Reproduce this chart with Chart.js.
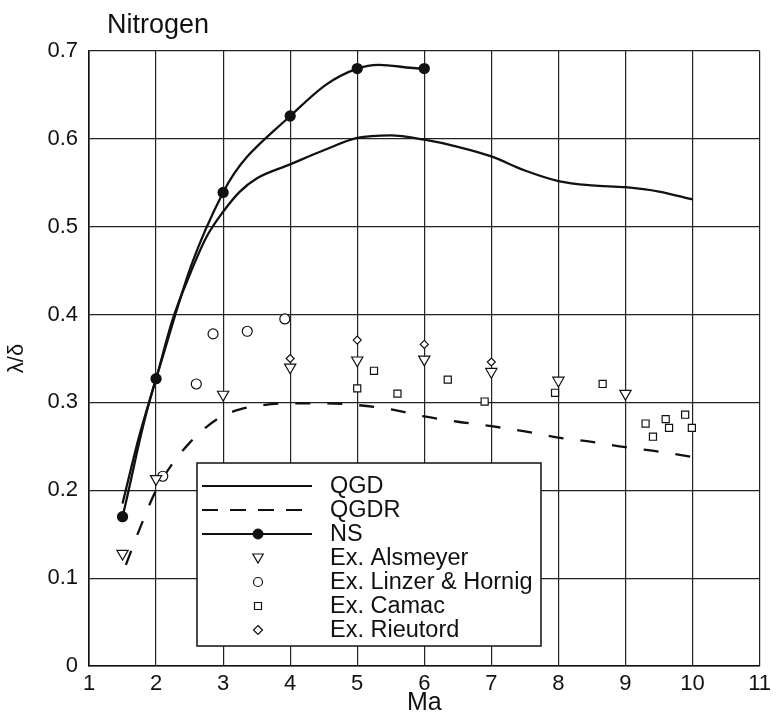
<!DOCTYPE html>
<html>
<head>
<meta charset="utf-8">
<title>Nitrogen</title>
<script src="https://cdn.jsdelivr.net/npm/chart.js@4.4.1/dist/chart.umd.min.js"></script>
<style>
  html, body { margin: 0; padding: 0; background: #fff; }
  #wrap { width: 776px; height: 716px; position: relative; }
</style>
</head>
<body>
<div id="wrap"><canvas id="c"></canvas></div>
<script>
/* λ/δ против числа Маха, азот */
const FONT = "'Liberation Sans', Arial, sans-serif";

const xTicks = [1, 2, 3, 4, 5, 6, 7, 8, 9, 10, 11];
const yTicks = [0, 0.1, 0.2, 0.3, 0.4, 0.5, 0.6, 0.7];

const qgdMa  = [1.5, 1.75, 2, 2.25, 2.5, 2.75, 3, 3.25, 3.5, 4, 4.5, 5, 5.5, 6, 6.5, 7, 7.5, 8, 8.5, 9, 9.5, 10];
const qgdVal = [0.185, 0.262, 0.327, 0.395, 0.445, 0.488, 0.517, 0.540, 0.555, 0.571, 0.587, 0.601, 0.604, 0.599, 0.591, 0.580, 0.564, 0.552, 0.547, 0.545, 0.540, 0.531];

const qgdrMa  = [1.55, 1.75, 2, 2.25, 2.5, 2.75, 3, 3.25, 3.5, 4, 4.5, 5, 5.5, 6, 6.5, 7, 7.5, 8, 8.5, 9, 9.5, 10];
const qgdrVal = [0.115, 0.155, 0.200, 0.231, 0.254, 0.272, 0.285, 0.292, 0.296, 0.299, 0.299, 0.297, 0.292, 0.284, 0.278, 0.273, 0.267, 0.260, 0.255, 0.249, 0.244, 0.238];

const nsMa  = [1.5, 2, 3, 4, 5, 6];
const nsVal = [0.170, 0.327, 0.539, 0.626, 0.680, 0.680];

const alsMa  = [1.5, 2, 3, 4, 5, 6, 7, 8, 9];
const alsVal = [0.128, 0.213, 0.309, 0.340, 0.348, 0.349, 0.335, 0.325, 0.310];

const linMa  = [2.1, 2.6, 2.85, 3.36, 3.92];
const linVal = [0.216, 0.321, 0.378, 0.381, 0.395];

const camMa  = [5.0, 5.25, 5.6, 6.35, 6.9, 7.95, 8.66, 9.3, 9.41, 9.6, 9.65, 9.89, 9.99];
const camVal = [0.316, 0.336, 0.310, 0.326, 0.301, 0.311, 0.321, 0.276, 0.261, 0.281, 0.271, 0.286, 0.271];

const rieMa  = [4, 5, 6, 7];
const rieVal = [0.350, 0.371, 0.366, 0.346];

const legendLabels = ['QGD', 'QGDR', 'NS', 'Ex. Alsmeyer', 'Ex. Linzer & Hornig', 'Ex. Camac', 'Ex. Rieutord'];

function pts(xs, ys) {
  return xs.map(function (x, i) { return { x: x, y: ys[i] }; });
}

function marker(ctx, style, x, y, r) {
  ctx.beginPath();
  if (style === 'triangle') {
    ctx.moveTo(x - r * 0.87, y - r * 0.5);
    ctx.lineTo(x + r * 0.87, y - r * 0.5);
    ctx.lineTo(x, y + r);
    ctx.closePath();
  } else if (style === 'circle') {
    ctx.arc(x, y, r, 0, Math.PI * 2);
  } else if (style === 'rect') {
    ctx.rect(x - r, y - r, r * 2, r * 2);
  } else if (style === 'rectRot') {
    ctx.moveTo(x, y - r);
    ctx.lineTo(x + r, y);
    ctx.lineTo(x, y + r);
    ctx.lineTo(x - r, y);
    ctx.closePath();
  }
  ctx.fill();
  ctx.stroke();
}

const overlay = {
  id: 'overlay',
  afterDatasetsDraw: function (chart) {
    const ctx = chart.ctx;
    const a = chart.chartArea;
    ctx.save();

    // легенда
    const L = a.left + 108, T = a.top + 412, W = 344, H = 183;
    ctx.fillStyle = '#fff';
    ctx.fillRect(L, T, W, H);
    ctx.strokeStyle = '#111';
    ctx.lineWidth = 1.5;
    ctx.strokeRect(L, T, W, H);

    const lx0 = L + 5, lx1 = L + 115, mx = L + 61, tx = L + 133;
    const row0 = T + 23, step = 24;
    ctx.font = '23.5px ' + FONT;
    ctx.textBaseline = 'middle';
    ctx.textAlign = 'left';
    legendLabels.forEach(function (lab, i) {
      const y = row0 + i * step;
      ctx.strokeStyle = '#111';
      ctx.fillStyle = '#fff';
      if (i < 3) {
        ctx.lineWidth = 2.2;
        ctx.setLineDash(i === 1 ? [16, 12] : []);
        ctx.beginPath();
        ctx.moveTo(lx0, y);
        ctx.lineTo(lx1, y);
        ctx.stroke();
        ctx.setLineDash([]);
        if (i === 2) {
          ctx.fillStyle = '#111';
          ctx.lineWidth = 1;
          marker(ctx, 'circle', mx, y, 5);
        }
      } else {
        ctx.lineWidth = 1.2;
        const st = ['triangle', 'circle', 'rect', 'rectRot'][i - 3];
        const r = [6, 4.5, 3.5, 4.5][i - 3];
        marker(ctx, st, mx, st === 'triangle' ? y - 1 : y, r);
      }
      ctx.fillStyle = '#111';
      ctx.fillText(lab, tx, y + 1);
    });

    // заголовок
    ctx.font = '27px ' + FONT;
    ctx.textBaseline = 'alphabetic';
    ctx.fillText('Nitrogen', 107, 33);
    ctx.restore();
  }
};

const openPt = { borderColor: '#111', backgroundColor: '#fff', borderWidth: 1.2, showLine: false };

new Chart(document.getElementById('c'), {
  type: 'scatter',
  data: {
    datasets: [
      {
        label: 'QGD', data: pts(qgdMa, qgdVal), showLine: true, borderColor: '#111',
        borderWidth: 2.3, pointRadius: 0, cubicInterpolationMode: 'monotone', order: 3
      },
      {
        label: 'QGDR', data: pts(qgdrMa, qgdrVal), showLine: true, borderColor: '#111',
        borderWidth: 2.3, borderDash: [15, 17], pointRadius: 0, cubicInterpolationMode: 'monotone', order: 3
      },
      {
        label: 'NS', data: pts(nsMa, nsVal), showLine: true, borderColor: '#111', backgroundColor: '#111',
        borderWidth: 2.3, tension: 0.4, pointRadius: 4.5, pointBackgroundColor: '#111', order: 2
      },
      Object.assign({ label: 'Ex. Alsmeyer', data: pts(alsMa, alsVal), pointStyle: 'triangle', rotation: 180, pointRadius: 6.5, order: 1 }, openPt),
      Object.assign({ label: 'Ex. Linzer & Hornig', data: pts(linMa, linVal), pointStyle: 'circle', pointRadius: 5, order: 1 }, openPt),
      Object.assign({ label: 'Ex. Camac', data: pts(camMa, camVal), pointStyle: 'rect', pointRadius: 5, order: 1 }, openPt),
      Object.assign({ label: 'Ex. Rieutord', data: pts(rieMa, rieVal), pointStyle: 'rectRot', pointRadius: 4, order: 1 }, openPt)
    ]
  },
  options: {
    responsive: true,
    maintainAspectRatio: false,
    animation: false,
    layout: { padding: { left: 4, top: 51, right: 12, bottom: 0 } },
    plugins: { legend: { display: false }, tooltip: { enabled: false }, title: { display: false } },
    scales: {
      x: {
        type: 'linear', min: 1, max: 11,
        afterFit: function (s) { s.height = 50; },
        afterBuildTicks: function (s) { s.ticks = xTicks.map(function (v) { return { value: v }; }); },
        grid: { color: '#222', lineWidth: 1.2, drawTicks: false },
        border: { color: '#111', width: 1.6 },
        ticks: { color: '#111', padding: 5, font: { family: FONT, size: 22 } },
        title: { display: true, text: 'Ma', color: '#111', padding: 0, font: { family: FONT, size: 25, lineHeight: 1.0 } }
      },
      y: {
        type: 'linear', min: 0, max: 0.7,
        afterFit: function (s) { s.width = 85; },
        afterBuildTicks: function (s) { s.ticks = yTicks.map(function (v) { return { value: v }; }); },
        grid: { color: '#222', lineWidth: 1.2, drawTicks: false },
        border: { color: '#111', width: 1.6 },
        ticks: {
          color: '#111', padding: 11, font: { family: FONT, size: 22 },
          callback: function (v) { return v === 0 ? '0' : v.toFixed(1); }
        },
        title: { display: true, text: 'λ/δ', color: '#111', padding: 0, font: { family: FONT, size: 22 } }
      }
    }
  },
  plugins: [overlay]
});
</script>
</body>
</html>
